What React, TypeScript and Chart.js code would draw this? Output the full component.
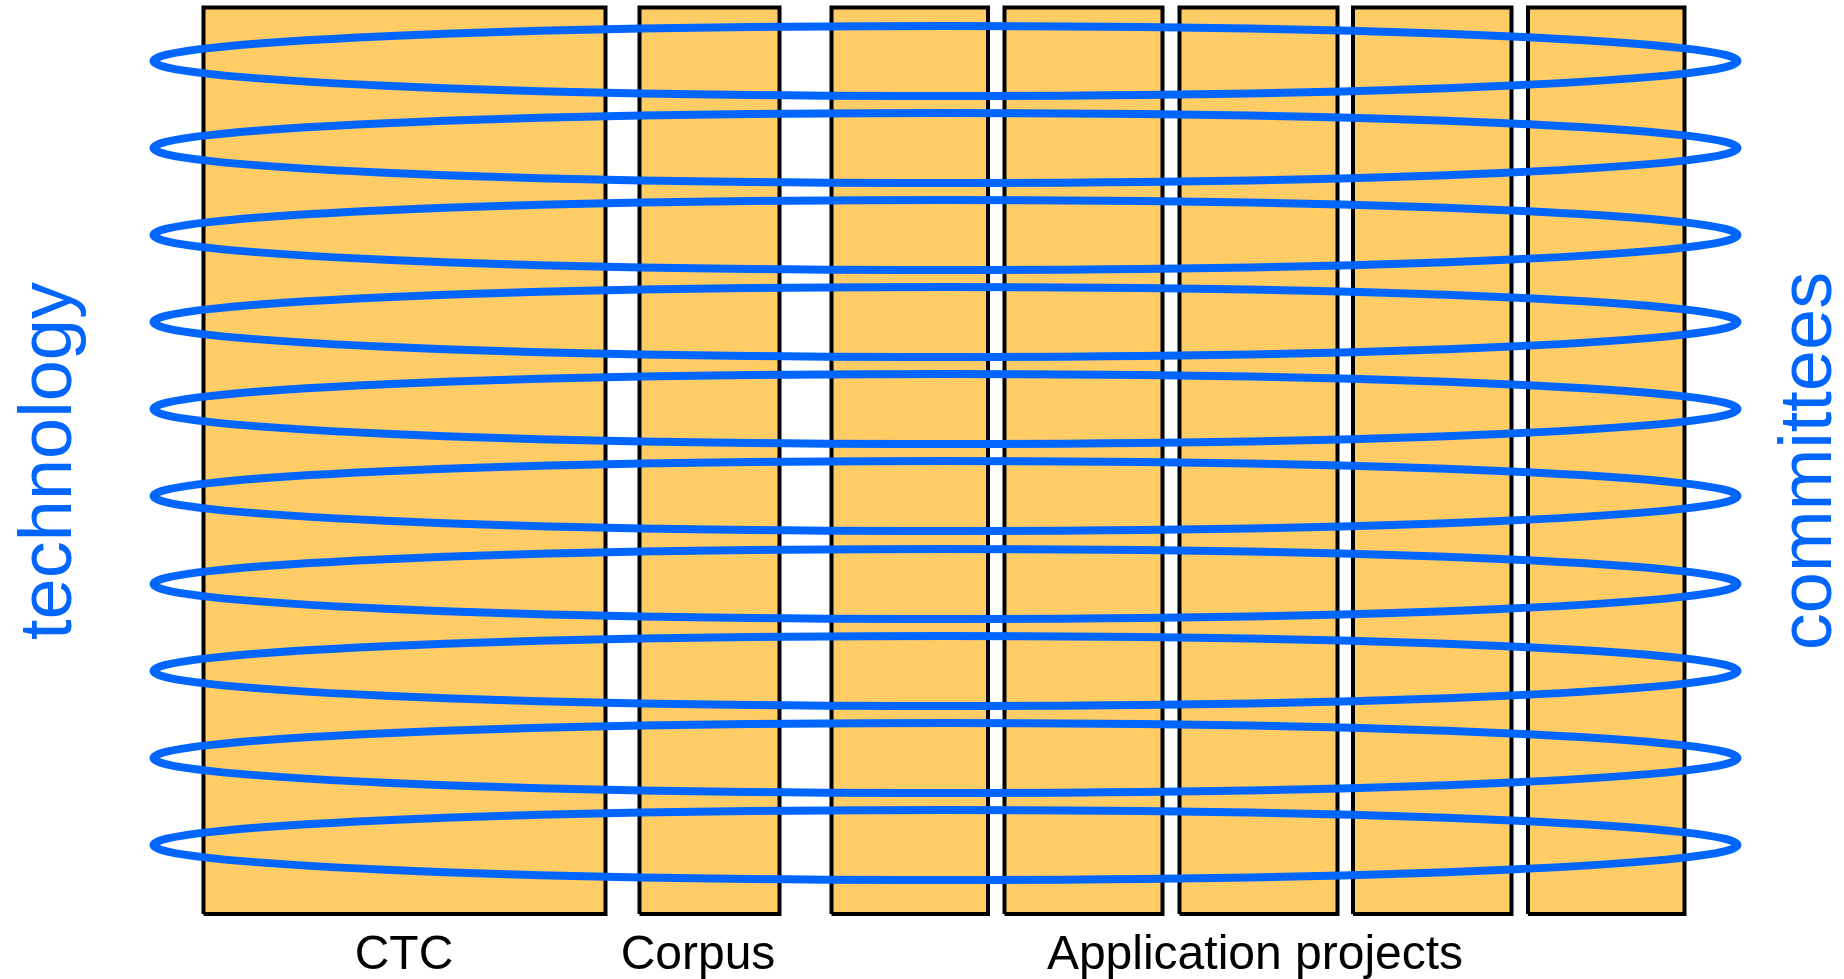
import { useEffect, useRef } from 'react';
import { Chart, registerables } from 'chart.js';

Chart.register(...registerables);

// Frame (abstract diagram units)
const frameWidth = 1844;
const frameHeight = 979;

// Columns (bars)
const barNames = ['CTC', 'Corpus', 'Application 1', 'Application 2', 'Application 3', 'Application 4', 'Application 5'];
const barLeft = [203.5, 639.5, 831.5, 1004.5, 1179.5, 1353, 1528];
const barRight = [605.5, 779.5, 988, 1162.5, 1337.5, 1511.5, 1684.5];
const barTop = 7.5;
const barBottom = 914;

// Rings (ellipses)
const ringCenterY = [61, 148, 235, 322, 409, 496, 584, 671, 758, 845];
const ringCenterX = 945.5;
const ringRadiusX = 792;
const ringRadiusY = 35;

// Labels
const groupLabels = ['CTC', 'Corpus', 'Application projects'];
const groupLabelX = [404, 698, 1255];
const groupLabelY = 969;
const sideLabels = ['technology', 'committees'];
const sideLabelX = [71, 1831];
const sideLabelY = 461;

const BAR_FILL = '#FFCC66';
const BAR_BORDER = '#000000';
const RING_COLOR = '#0066FF';

const ringsPlugin = {
  id: 'rings',
  afterDatasetsDraw(chart: any) {
    const { ctx, scales } = chart;
    const xs = scales.x;
    const ys = scales.y;
    ctx.save();
    ctx.strokeStyle = RING_COLOR;
    ctx.lineWidth = 8;
    ringCenterY.forEach((cy) => {
      const px = xs.getPixelForValue(ringCenterX);
      const py = ys.getPixelForValue(cy);
      const rx = Math.abs(xs.getPixelForValue(ringCenterX + ringRadiusX) - px);
      const ry = Math.abs(ys.getPixelForValue(cy + ringRadiusY) - py);
      ctx.beginPath();
      ctx.ellipse(px, py, rx, ry, 0, 0, Math.PI * 2);
      ctx.stroke();
    });
    ctx.restore();
  },
};

const labelsPlugin = {
  id: 'labels',
  afterDraw(chart: any) {
    const { ctx, scales } = chart;
    const xs = scales.x;
    const ys = scales.y;
    ctx.save();
    ctx.fillStyle = '#000000';
    ctx.font = '48px "Liberation Sans", Arial, sans-serif';
    ctx.textAlign = 'center';
    ctx.textBaseline = 'alphabetic';
    groupLabels.forEach((t, i) => {
      ctx.fillText(t, xs.getPixelForValue(groupLabelX[i]), ys.getPixelForValue(groupLabelY));
    });
    ctx.fillStyle = RING_COLOR;
    ctx.font = '74px "Liberation Sans", Arial, sans-serif';
    sideLabels.forEach((t, i) => {
      ctx.save();
      ctx.translate(xs.getPixelForValue(sideLabelX[i]), ys.getPixelForValue(sideLabelY));
      ctx.rotate(-Math.PI / 2);
      ctx.fillText(t, 0, 0);
      ctx.restore();
    });
    ctx.restore();
  },
};

export default function App() {
  const canvasRef = useRef<HTMLCanvasElement | null>(null);

  useEffect(() => {
    if (!canvasRef.current) return;
    const datasets = barNames.map((name, i) => ({
      type: 'line' as const,
      label: name,
      data: [
        { x: barLeft[i], y: barBottom },
        { x: barLeft[i], y: barTop },
        { x: barRight[i], y: barTop },
        { x: barRight[i], y: barBottom },
        { x: barLeft[i], y: barBottom },
      ],
      fill: 'shape' as any,
      backgroundColor: BAR_FILL,
      borderColor: BAR_BORDER,
      borderWidth: 4,
      borderJoinStyle: 'miter' as const,
      pointRadius: 0,
      pointHoverRadius: 0,
      tension: 0,
      clip: false as any,
    }));

    const chart = new Chart(canvasRef.current, {
      type: 'scatter',
      data: { datasets: datasets as any },
      options: {
        animation: false,
        responsive: true,
        maintainAspectRatio: false,
        showLine: true,
        layout: { padding: 0 },
        events: [],
        scales: {
          x: { type: 'linear', display: false, min: 0, max: frameWidth },
          y: { type: 'linear', display: false, min: 0, max: frameHeight, reverse: true },
        },
        plugins: {
          legend: { display: false },
          tooltip: { enabled: false },
        },
      },
      plugins: [ringsPlugin, labelsPlugin],
    });
    return () => chart.destroy();
  }, []);

  return (
    <div style={{ position: 'fixed', left: 0, top: 0, width: '1844px', height: '979px', background: '#ffffff' }}>
      <canvas ref={canvasRef} />
    </div>
  );
}
